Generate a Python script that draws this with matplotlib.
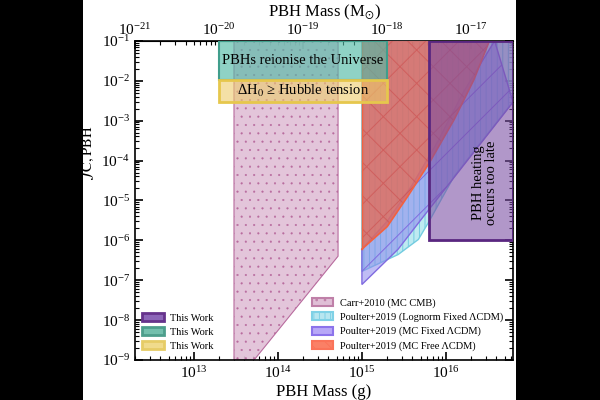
import numpy as np
import matplotlib
matplotlib.use('Agg')
import matplotlib.pyplot as plt
from matplotlib.patches import Patch, Rectangle
from matplotlib.ticker import LogLocator, NullFormatter

plt.rcParams['font.family'] = ['Liberation Serif', 'DejaVu Serif']
plt.rcParams['mathtext.fontset'] = 'stix'
plt.rcParams['hatch.linewidth'] = 0.7

MSUN = 1.989e33  # g

# axis limits (g)
XLIM = [1e-21 * MSUN, 10 ** -16.5 * MSUN]
YLIM = [1e-9, 1e-1]

# Carr+2010 (MC CMB)
carr_m = [3e13, 3e13, 5.2e13, 5.2e14, 5.2e14]
carr_f = [1e-1, 1e-9, 1e-9, 4e-7, 1e-1]

# Poulter+2019 (MC Free LCDM) lower boundary
free_m = [1e15, 2.0e15, 3.5e15, 6.3e15, 1.25e16, 2.15e16, 3.3e16]
free_f = [6e-7, 2.2e-6, 1.25e-5, 8.5e-5, 1.05e-3, 1.05e-2, 1e-1]

# Poulter+2019 (MC Fixed LCDM) band
fixed_m_lo = [1e15, 2.7e15, 5.0e15, 6.3e16]
fixed_f_lo = [7.8e-8, 6.0e-7, 3.2e-6, 2.9e-3]
fixed_m_hi = [1e15, 2.0e15, 4.0e15, 8.0e15, 1.6e16, 3.8e16]
fixed_f_hi = [6e-7, 3.0e-6, 2.5e-5, 3.0e-4, 5.0e-3, 1e-1]

# Poulter+2019 (Lognorm Fixed LCDM) lower boundary
logn_m = [1e15, 1.7e15, 2.7e15, 4.7e15, 6.2e15, 1.25e16, 6.3e16]
logn_f = [1.66e-7, 2.8e-7, 4.4e-7, 1.05e-6, 2.8e-6, 4.0e-5, 3.0e-3]

# This Work regions
reion_m = [1e-20 * MSUN, 1e-18 * MSUN]
reion_f = [1.05e-2, 1e-1]
hubble_f = [2.9e-3, 1.05e-2]
heat_m = [6.3e15, 10 ** -16.5 * MSUN]
heat_f = [1e-6, 1e-1]

fig = plt.figure(figsize=(6, 4), dpi=100)
fig.patch.set_facecolor('black')
bg = Rectangle((83 / 600, 0), (516 - 83) / 600, 1, transform=fig.transFigure,
               facecolor='white', edgecolor='none', zorder=-10)
fig.add_artist(bg)
ax = fig.add_axes([0.225, 0.1, 0.63, 0.798])
ax.set_zorder(5)
ax.set_xscale('log')
ax.set_yscale('log')
ax.set_xlim(XLIM)
ax.set_ylim(YLIM)
top = YLIM[1]

# Carr
carr = ax.fill(carr_m, carr_f, facecolor=(0.88, 0.75, 0.84, 0.9), edgecolor=(0.72, 0.42, 0.62),
               hatch='..', lw=0.8, zorder=2)[0]
if hasattr(carr, 'set_hatch_linewidth'):
    carr.set_hatch_linewidth(0.3)

# Lognorm
ax.fill(logn_m + [logn_m[-1], logn_m[0]], logn_f + [top, top],
        facecolor=(0.66, 0.89, 0.93, 0.75), edgecolor=(0.45, 0.8, 0.88),
        hatch='|||', lw=1.0, zorder=3)
# MC Fixed
ax.fill(fixed_m_lo + fixed_m_hi[::-1], fixed_f_lo + fixed_f_hi[::-1],
        facecolor=(0.55, 0.52, 0.93, 0.55), edgecolor=(0.5, 0.42, 0.88),
        hatch='/', lw=1.0, zorder=4)
# MC Free
ax.fill(free_m + [free_m[0]], free_f + [top],
        facecolor=(0.85, 0.42, 0.40, 0.88), edgecolor=(0.8, 0.3, 0.3, 0.6),
        hatch='x', lw=0, zorder=5)
ax.plot(free_m, free_f, color=(0.95, 0.38, 0.25), lw=1.2, zorder=5)
ax.plot([free_m[0], free_m[0]], [free_f[0], top], color=(0.95, 0.38, 0.25), lw=1.0, zorder=5)

# This Work: reionisation and Hubble boxes
ax.fill([reion_m[0], reion_m[1], reion_m[1], reion_m[0]],
        [reion_f[0], reion_f[0], reion_f[1], reion_f[1]],
        facecolor=(0.33, 0.73, 0.65, 0.65), edgecolor=(0.25, 0.62, 0.55), lw=1.5, zorder=6)
ax.fill([reion_m[0], reion_m[1], reion_m[1], reion_m[0]],
        [hubble_f[0], hubble_f[0], hubble_f[1], hubble_f[1]],
        facecolor=(0.93, 0.8, 0.42, 0.6), edgecolor=(0.9, 0.78, 0.3), lw=2, zorder=6)
# heating box
ax.fill([heat_m[0], heat_m[1], heat_m[1], heat_m[0]],
        [heat_f[0], heat_f[0], heat_f[1], heat_f[1]],
        facecolor=(0.48, 0.3, 0.64, 0.58), edgecolor=(0.35, 0.15, 0.5), lw=2, zorder=7)

ax.text(np.sqrt(reion_m[0] * reion_m[1]), np.sqrt(reion_f[0] * reion_f[1]),
        'PBHs reionise the Universe', ha='center', va='center', fontsize=10.5, zorder=8)
ax.text(np.sqrt(reion_m[0] * reion_m[1]), np.sqrt(hubble_f[0] * hubble_f[1]),
        'ΔH$_0$ ≥ Hubble tension', ha='center', va='center', fontsize=10.5, zorder=8)
ax.text(2.9e16, 2.8e-5, 'PBH heating\noccurs too late', rotation=90,
        ha='center', va='center', fontsize=10.5, linespacing=1.0, zorder=8)

ax.set_xlabel('PBH Mass (g)', fontsize=12, labelpad=2)
ax.set_ylabel(r'$f_{\rm C,PBH}$', fontsize=15)
ax.yaxis.set_label_coords(-0.1, 0.65)
for axis in (ax.xaxis, ax.yaxis):
    axis.set_major_locator(LogLocator(base=10, numticks=20))
    axis.set_minor_locator(LogLocator(base=10, subs=np.arange(2, 10), numticks=200))
    axis.set_minor_formatter(NullFormatter())
ax.tick_params(which='both', direction='in', right=True, labelsize=11)
ax.tick_params(which='major', length=6, width=1.2)
ax.tick_params(which='minor', length=3, width=0.8)
for s in ax.spines.values():
    s.set_linewidth(1.2)

sec = ax.secondary_xaxis('top', functions=(lambda m: m / MSUN, lambda m: m * MSUN))
sec.set_xscale('log')
sec.xaxis.set_minor_locator(LogLocator(base=10, subs=np.arange(2, 10), numticks=200))
sec.xaxis.set_minor_formatter(NullFormatter())
sec.tick_params(which='both', direction='in', labelsize=11, pad=2)
sec.tick_params(which='major', length=6, width=1.2)
sec.tick_params(which='minor', length=3, width=0.8)
sec.set_xlabel(r'PBH Mass (M$_{\odot}$)', fontsize=12, labelpad=4)

# legends
h1 = [Patch(facecolor=(0.55, 0.4, 0.72), edgecolor=(0.4, 0.2, 0.55), lw=2, label='This Work'),
      Patch(facecolor=(0.45, 0.75, 0.68), edgecolor=(0.3, 0.62, 0.55), lw=2, label='This Work'),
      Patch(facecolor=(0.94, 0.86, 0.55), edgecolor=(0.9, 0.8, 0.4), lw=2, label='This Work')]
leg1 = ax.legend(handles=h1, loc='lower left', bbox_to_anchor=(-0.005, 0.0), frameon=False,
                 fontsize=7.5, handlelength=2.1, handleheight=0.8, labelspacing=0.42,
                 handletextpad=0.5)
ax.add_artist(leg1)
h2 = [Patch(facecolor=(0.88, 0.75, 0.84), edgecolor=(0.75, 0.5, 0.66), hatch='..', lw=1.5,
            label='Carr+2010 (MC CMB)'),
      Patch(facecolor=(0.72, 0.9, 0.94), edgecolor=(0.5, 0.82, 0.9), hatch='|||', lw=1.5,
            label='Poulter+2019 (Lognorm Fixed ΛCDM)'),
      Patch(facecolor=(0.72, 0.66, 0.97), edgecolor=(0.55, 0.45, 0.92), hatch='/', lw=1.5,
            label='Poulter+2019 (MC Fixed ΛCDM)'),
      Patch(facecolor=(0.98, 0.5, 0.4), edgecolor=(0.98, 0.45, 0.35), hatch='\\\\', lw=1.5,
            label='Poulter+2019 (MC Free ΛCDM)')]
ax.legend(handles=h2, loc='lower right', bbox_to_anchor=(1.0, 0.0), frameon=False,
          fontsize=7.5, handlelength=2.0, handleheight=0.8, labelspacing=0.42,
          handletextpad=0.75)

fig.savefig('out.png', dpi=100, facecolor=fig.get_facecolor())
